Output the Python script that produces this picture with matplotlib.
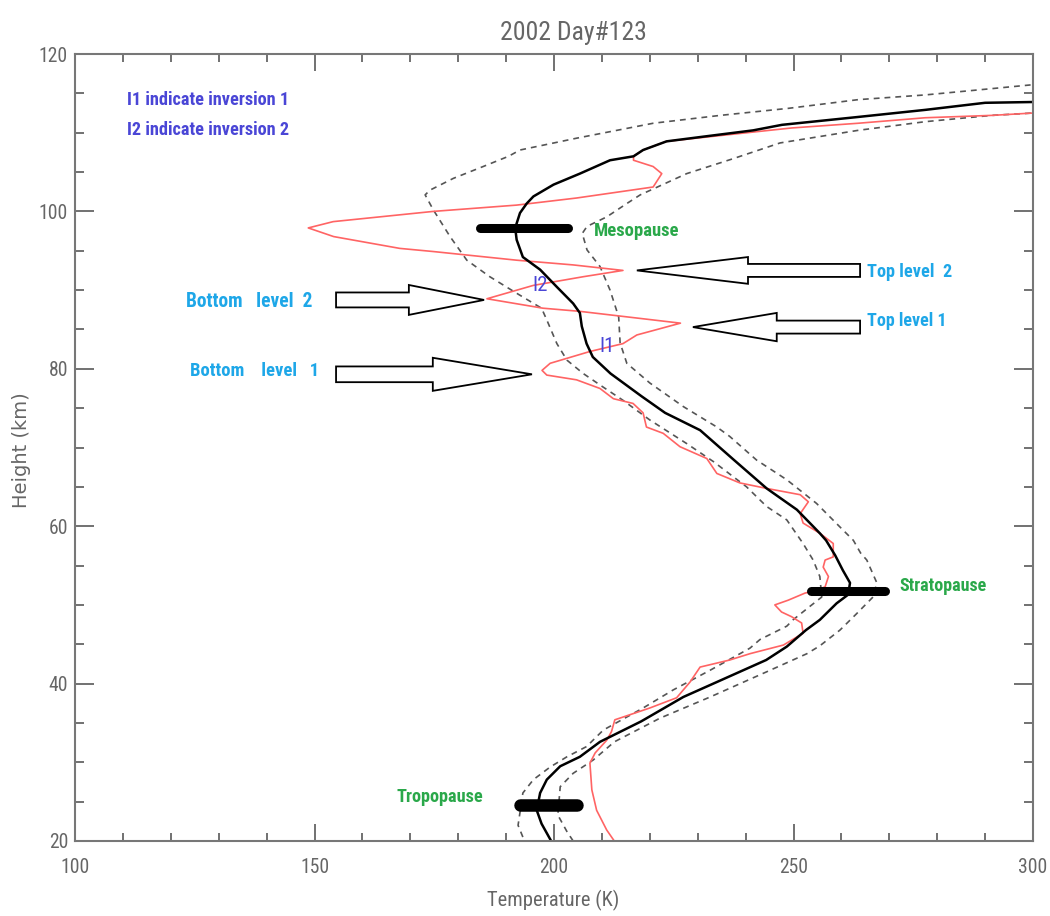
import numpy as np
import matplotlib
matplotlib.use('Agg')
from matplotlib import pyplot as plt
from matplotlib import font_manager
from matplotlib.patches import FancyArrow
from matplotlib.ticker import MultipleLocator

# mean temperature profile (black)
mean_h = [19.9, 22.2, 23.9, 26.1, 27.8, 29.5, 30.7, 32.6, 35.2, 38.3, 40.2, 43.0,
          44.7, 46.8, 48.1, 50.2, 51.3, 52.8, 54.4, 56.3, 58.2, 59.1, 62.1, 64.8,
          68.4, 72.2, 74.4, 76.5, 79.4, 81.5, 83.2, 85.4, 87.1, 88.3, 90.4, 92.6,
          94.2, 96.4, 97.9, 99.8, 101.0, 101.9, 103.4, 104.8, 106.5, 107.0, 107.8,
          108.9, 109.5, 110.3, 111.0, 112.0, 112.9, 113.8, 113.9]
mean_t = [199.5, 197.4, 196.4, 197.1, 198.5, 201.3, 205.4, 209.6, 218.2, 227.0, 234.0, 244.3,
          248.6, 252.6, 255.5, 259.0, 261.4, 261.8, 260.3, 258.7, 256.8, 255.5, 250.7, 244.4,
          237.6, 230.5, 223.2, 218.3, 211.8, 208.1, 206.8, 205.8, 205.4, 204.0, 200.6, 197.1,
          193.5, 192.2, 191.9, 192.9, 194.3, 195.7, 199.9, 205.4, 211.7, 216.6, 218.6,
          223.5, 231.2, 241.6, 247.6, 263.5, 277.5, 290.0, 300.0]

# day 123 profile (red)
day_h = [19.9, 21.4, 23.9, 26.5, 29.9, 31.2, 32.8, 33.9, 35.4, 36.2, 36.9, 38.2, 40.2,
         42.1, 43.0, 43.8, 44.9, 46.4, 47.7, 48.5, 49.1, 50.0, 50.6, 51.5, 51.9, 52.3,
         53.6, 54.8, 55.7, 56.1, 57.8, 59.1, 60.4, 61.6, 63.1, 64.0, 64.8, 65.5, 66.7,
         68.6, 70.1, 71.8, 72.6, 74.4, 75.6, 76.2, 77.5, 78.6, 79.2, 79.8, 80.7, 82.2,
         83.2, 84.3, 85.8, 87.3, 87.7, 88.9, 90.6, 91.7, 92.5, 93.2, 93.8, 94.9, 95.3,
         96.8, 97.9, 98.7, 100.0, 100.8, 101.7, 103.1, 104.8, 105.7, 106.5, 107.0, 107.8,
         108.9, 109.7, 110.6, 111.2, 111.9, 112.2, 112.5]
day_t = [212.7, 211.0, 208.9, 207.9, 207.5, 208.6, 211.0, 212.0, 212.7, 216.6, 220.0, 225.6, 228.4,
         230.5, 236.7, 240.9, 247.9, 252.0, 251.7, 249.6, 247.5, 246.1, 248.9, 252.4, 255.1, 256.6,
         257.3, 256.2, 256.6, 258.3, 258.3, 255.5, 252.0, 251.4, 253.1, 251.4, 244.4, 238.8, 234.0,
         231.9, 226.3, 222.8, 219.3, 218.6, 216.5, 212.4, 209.6, 204.7, 198.5, 197.5, 199.2, 207.5,
         214.4, 217.3, 226.4, 205.4, 197.7, 186.0, 195.7, 206.1, 214.4, 204.0, 192.2, 174.8, 167.8,
         154.0, 148.7, 153.9, 174.8, 192.2, 204.7, 220.7, 222.5, 220.7, 216.6, 216.6, 218.6,
         223.5, 235.7, 249.6, 263.5, 277.5, 291.4, 300.0]

# mean - std (left dashed)
low_h = [20.5, 22.0, 26.1, 27.8, 29.4, 30.7, 32.0, 34.1, 36.9, 39.2, 41.7, 44.5, 45.6,
         47.3, 48.1, 49.8, 51.0, 53.6, 55.7, 57.8, 60.8, 62.5, 65.0, 68.2, 70.5, 73.5,
         76.0, 77.7, 79.4, 81.1, 83.2, 86.2, 87.7, 89.6, 91.7, 93.8, 96.8, 100.2, 102.1,
         102.7, 104.2, 105.7, 107.0, 107.8, 109.3, 111.2, 112.2, 113.1, 114.2, 114.8,
         115.6, 116.1]
low_t = [193.5, 192.5, 193.5, 195.7, 199.2, 202.7, 206.8, 210.3, 218.6, 224.9, 232.6, 240.9, 243.0,
         248.6, 249.9, 253.4, 255.9, 255.5, 254.1, 252.0, 248.6, 244.4, 240.2, 233.3, 227.7, 220.0,
         214.4, 210.2, 206.1, 202.7, 200.6, 198.5, 197.4, 192.2, 186.6, 181.8, 178.3, 174.8, 173.1,
         174.1, 179.0, 185.2, 190.5, 192.9, 204.7, 220.7, 234.7, 249.0, 263.5, 277.5,
         291.4, 300.0]

# mean + std (right dashed)
high_h = [20.0, 21.2, 23.3, 26.9, 28.6, 30.3, 32.6, 35.6, 38.3, 41.5, 43.8, 44.8, 46.8,
          48.9, 51.0, 52.8, 55.7, 56.6, 58.2, 59.9, 62.9, 65.9, 68.4, 71.4, 72.6, 75.2,
          78.2, 80.7, 83.3, 86.6, 90.0, 93.0, 95.1, 97.2, 98.1, 99.3, 101.0, 102.1, 104.8,
          106.7, 108.7, 110.3, 111.4, 112.2, 112.5]
high_t = [204.0, 202.7, 200.8, 201.3, 204.0, 208.2, 212.6, 222.1, 232.6, 244.4, 252.8, 255.5, 259.7,
          263.2, 266.6, 267.4, 265.3, 264.0, 262.5, 259.7, 254.8, 248.6, 242.3, 236.7, 234.0, 227.0,
          220.0, 215.2, 213.8, 213.5, 211.7, 209.6, 206.9, 205.9, 206.9, 211.0, 215.2, 218.0, 227.7,
          237.4, 247.2, 263.5, 277.5, 291.4, 300.0]

# thick bars
bar_names = ['Mesopause', 'Stratopause', 'Tropopause']
bar_t0 = [184.5, 253.6, 193.0]
bar_t1 = [202.9, 269.2, 204.8]
bar_h = [97.9, 51.8, 24.6]

# hollow arrows: tail T, tip T, height
arrow_tail = [154.5, 154.5, 263.9, 263.9]
arrow_tip = [185.4, 195.4, 217.3, 229.0]
arrow_h = [88.75, 79.3, 92.5, 85.3]


def narrow_font():
    """ pick a condensed family if one is installed """
    fonts = font_manager.fontManager.ttflist
    for name in ['Liberation Sans Narrow', 'Roboto Condensed', 'Open Sans Condensed',
                 'Noto Sans Condensed', 'DejaVu Sans Condensed']:
        if any(f.name == name for f in fonts):
            return dict(family=name)
    if any(f.name == 'DejaVu Sans' and 'condensed' in str(f.stretch) for f in fonts):
        return dict(family='DejaVu Sans', stretch='condensed')
    return dict(family='Roboto')


def fit_width(txt, width_px):
    """ rescale a text so that it is width_px wide """
    r = fig.canvas.get_renderer()
    w = txt.get_window_extent(r).width
    txt.set_fontsize(txt.get_fontsize() * width_px / w)


font = narrow_font()
gray = '#666666'

fig = plt.figure(figsize=(10.5, 9.16), dpi=100)
ax = fig.add_axes([75 / 1050, 1 - 841 / 916, 958 / 1050, 787 / 916])

ax.plot(low_t, low_h, color='#555555', lw=1.2, ls=(0, (3.5, 3)))
ax.plot(high_t, high_h, color='#555555', lw=1.2, ls=(0, (3.5, 3)))
ax.plot(day_t, day_h, color='#ff6464', lw=1.2)
ax.plot(mean_t, mean_h, color='black', lw=1.8)

for i in range(len(bar_names)):
    w = 9 if bar_names[i] == 'Tropopause' else 6.5
    ax.plot([bar_t0[i], bar_t1[i]], [bar_h[i], bar_h[i]], color='black',
            lw=w, solid_capstyle='round')

shaft = [1.9, 2.0, 1.65, 1.65]
head_w = [3.8, 4.2, 3.4, 3.6]
head_l = [15.7, 20.7, 23.2, 17.5]
for i in range(len(arrow_tail)):
    arr = FancyArrow(arrow_tail[i], arrow_h[i], arrow_tip[i] - arrow_tail[i], 0,
                     width=shaft[i], head_width=head_w[i], head_length=head_l[i],
                     length_includes_head=True, facecolor='white',
                     edgecolor='black', lw=1.3, zorder=5)
    ax.add_patch(arr)

ax.set_xlim(100, 300)
ax.set_ylim(20, 120)
ax.xaxis.set_major_locator(MultipleLocator(50))
ax.xaxis.set_minor_locator(MultipleLocator(10))
ax.yaxis.set_major_locator(MultipleLocator(20))
ax.yaxis.set_minor_locator(MultipleLocator(5))
ax.tick_params(which='both', direction='in', top=True, right=True,
               color=gray, labelcolor=gray, width=1.3)
ax.tick_params(axis='x', which='major', length=12, pad=12)
ax.tick_params(axis='x', which='minor', length=5.5)
ax.tick_params(axis='y', which='major', length=13.5, pad=5)
ax.tick_params(axis='y', which='minor', length=6.5)
for sp in ax.spines.values():
    sp.set_color('#777777')
    sp.set_linewidth(1.5)

# tick label size from the width of "100" (about 28 px)
probe = fig.text(0, 0, '100', fontsize=16, **font)
fit_width(probe, 29)
tick_size = probe.get_fontsize()
probe.remove()
for lab in ax.get_xticklabels() + ax.get_yticklabels():
    lab.set_fontproperties(font_manager.FontProperties(size=tick_size, **font))

title = fig.text(573 / 1050, 1 - 33 / 916, '2002 Day#123', ha='center', va='center',
                 fontsize=20, color=gray, **font)
fit_width(title, 147)
xl = fig.text(553 / 1050, 1 - 900 / 916, 'Temperature (K)', ha='center', va='center',
              fontsize=16, color=gray, **font)
fit_width(xl, 133)
fig.text(22 / 1050, 1 - 450 / 916, 'Height (km)', ha='center', va='center',
         rotation=90, fontsize=14, color=gray, family='DejaVu Sans')

purple = '#4a46d6'
sky = '#1ea7e8'
green = '#2aa84a'

notes = [
    ('I1 indicate inversion 1', 110.9, 114.2, purple, 163),
    ('I2 indicate inversion 2', 110.9, 110.3, purple, 163),
    ('Bottom   level  2', 123.2, 88.6, sky, 127),
    ('Bottom    level   1', 124.0, 79.7, sky, 130),
    ('Top level  2', 265.3, 92.3, sky, 85),
    ('Top level 1', 265.3, 86.1, sky, 80),
    ('Mesopause', 208.4, 97.5, green, 86),
    ('Stratopause', 272.2, 52.4, green, 88),
    ('Tropopause', 167.2, 25.6, green, 87),
]
for s, x, y, c, wpx in notes:
    t = ax.text(x, y, s, color=c, va='center', fontsize=14, fontweight='bold', **font)
    fit_width(t, wpx)

ax.text(195.4, 90.6, 'I2', color=purple, va='center', fontsize=15, **font)
ax.text(209.4, 82.8, 'I1', color=purple, va='center', fontsize=15, **font)

fig.savefig('out.png', dpi=100)
